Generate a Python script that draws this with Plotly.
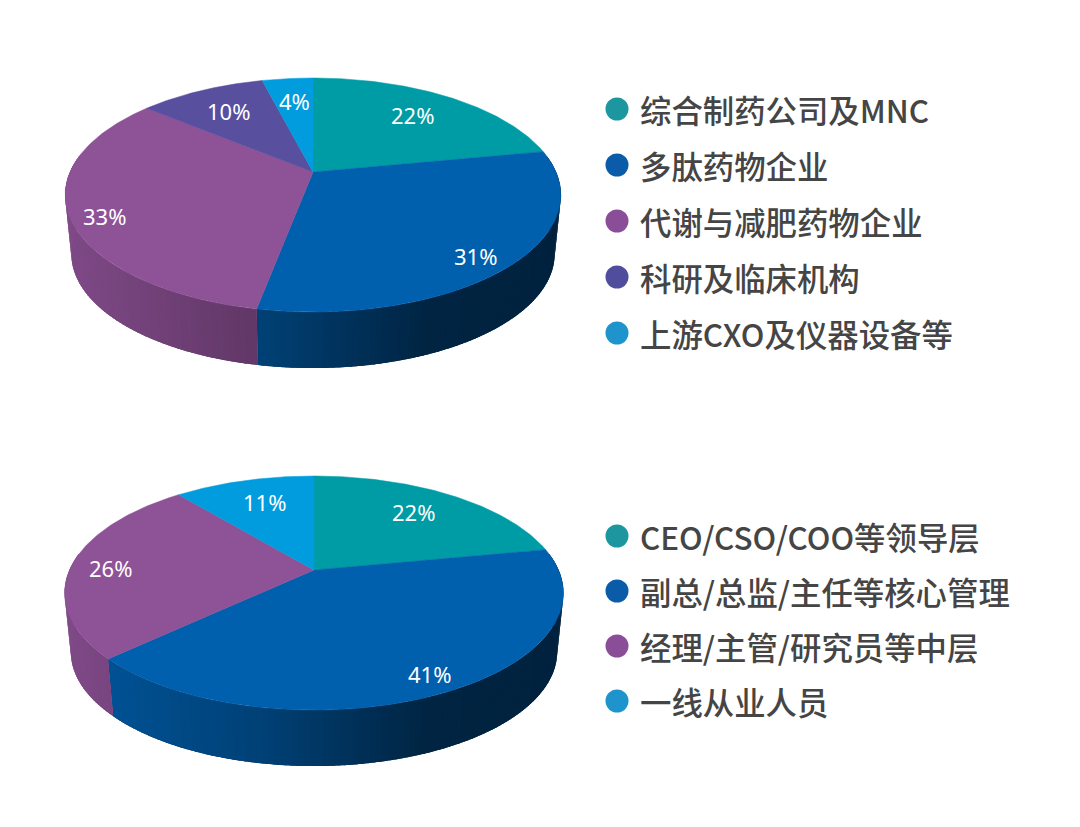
import numpy as np
import plotly.graph_objects as go

# ---- data ----
top_names = ["综合制药公司及MNC", "多肽药物企业", "代谢与减肥药物企业", "科研及临床机构", "上游CXO及仪器设备等"]
top_shares = [22, 31, 33, 10, 4]
top_colors = ["#009CA6", "#0060AE", "#8E5297", "#584F9F", "#009CDE"]
bottom_names = ["CEO/CSO/COO等领导层", "副总/总监/主任等核心管理", "经理/主管/研究员等中层", "一线从业人员"]
bottom_shares = [22, 41, 26, 11]
bottom_colors = ["#009CA6", "#0060AE", "#8E5297", "#009CDE"]
legend_colors_top = ["#1C979F", "#0A5CA8", "#8A4E98", "#504E9C", "#1E93CC"]
legend_colors_bottom = ["#1C979F", "#0A5CA8", "#8A4E98", "#1E93CC"]

# ---- layout constants (pixels) ----
W, H = 1080, 827
B, K = 112.5, 0.1966      # perspective disc
DEPTH, SHRINK = 59.5, 0.975
top_center = (313, 172, 243.0)
bottom_center = (314, 570, 244.5)
top_label_pos = [(412, 115), (475, 256), (104, 216), (228, 111), (294, 101)]
bottom_label_pos = [(413, 512), (429, 674), (110, 568), (264, 502)]
legend_top_y = [109, 165, 221, 277, 333]
legend_bottom_y = [536, 591, 646, 701]
LEGEND_X, LEGEND_TEXT_X = 617, 638
CJK = "Noto Sans CJK SC"


def project(t, cx, cy, a, scale=1.0, drop=0.0):
    X, Y = np.sin(t), -np.cos(t)
    w = 1 - K * Y
    return cx + scale * a * X / w, cy + drop + scale * B * Y / w


def shade(hexcol, x, cx):
    stops_x = [-250, -55, 115, 250]
    stops_f = [0.90, 0.68, 0.38, 0.36]
    f = float(np.interp(x - cx, stops_x, stops_f))
    rgb = [int(hexcol[i:i + 2], 16) for i in (1, 3, 5)]
    return "rgb(%d,%d,%d)" % tuple(int(c * f) for c in rgb)


fig = go.Figure()


def add_pie(shares, names, colors, center):
    cx, cy, a = center
    edges = np.cumsum([0] + shares) / sum(shares) * 2 * np.pi
    lo = np.pi / 2 - 0.15
    hi = 3 * np.pi / 2 + 0.15
    for s in range(len(shares)):
        a0, a1 = max(edges[s], lo), min(edges[s + 1], hi)
        if a1 <= a0:
            continue
        # solid base of the wall so the strips leave no pale seams
        ts = np.linspace(a0, a1, 200)
        tx, ty = project(ts, cx, cy, a)
        bx, by = project(ts, cx, cy, a, SHRINK, DEPTH)
        base = shade(colors[s], float(tx.mean()), cx)
        fig.add_trace(go.Scatter(x=[*tx, *bx[::-1], tx[0]], y=[*ty, *by[::-1], ty[0]],
                                 mode="none", fill="toself", fillcolor=base,
                                 hoverinfo="skip", showlegend=False))
        n = max(2, int((a1 - a0) / 0.02))
        ss = np.linspace(a0, a1, n + 1)
        for i, (u, v) in enumerate(zip(ss[:-1], ss[1:])):
            vv = v if i == n - 1 else v + 0.008
            tx0, ty0 = project(u, cx, cy, a)
            tx1, ty1 = project(vv, cx, cy, a)
            bx1, by1 = project(vv, cx, cy, a, SHRINK, DEPTH)
            bx0, by0 = project(u, cx, cy, a, SHRINK, DEPTH)
            c = shade(colors[s], (tx0 + tx1) / 2, cx)
            fig.add_trace(go.Scatter(x=[tx0, tx1, bx1, bx0, tx0], y=[ty0, ty1, by1, by0, ty0],
                                     mode="none", fill="toself", fillcolor=c,
                                     hoverinfo="skip", showlegend=False))
    for s, (name, col) in enumerate(zip(names, colors)):
        ts = np.linspace(edges[s], edges[s + 1], 120)
        px, py = project(ts, cx, cy, a)
        fig.add_trace(go.Scatter(x=[cx, *px, cx], y=[cy, *py, cy], mode="lines", fill="toself",
                                 fillcolor=col, line=dict(color=col, width=0.5),
                                 name=name, hoverinfo="name", showlegend=False))


add_pie(top_shares, top_names, top_colors, top_center)
add_pie(bottom_shares, bottom_names, bottom_colors, bottom_center)

annotations = []
for shares, positions in ((top_shares, top_label_pos), (bottom_shares, bottom_label_pos)):
    for v, (x, y) in zip(shares, positions):
        annotations.append(dict(x=x, y=y, text=f"{v}%", showarrow=False, xanchor="center", yanchor="middle",
                                font=dict(family="Noto Sans", size=22, color="#FFFFFF")))

for names, cols, ys in ((top_names, legend_colors_top, legend_top_y),
                        (bottom_names, legend_colors_bottom, legend_bottom_y)):
    fig.add_trace(go.Scatter(x=[LEGEND_X] * len(ys), y=ys, mode="markers", hoverinfo="skip", showlegend=False,
                             marker=dict(size=23, color=cols, line=dict(width=0))))
    for name, y in zip(names, ys):
        annotations.append(dict(x=LEGEND_TEXT_X, y=y, text=name, showarrow=False, xanchor="left", yanchor="middle",
                                font=dict(family=CJK, size=31.4, color="#454545", weight=500)))

fig.update_layout(
    width=W, height=H, margin=dict(l=0, r=0, t=0, b=0), paper_bgcolor="white", plot_bgcolor="white",
    xaxis=dict(range=[0, W], visible=False, fixedrange=True),
    yaxis=dict(range=[H, 0], visible=False, fixedrange=True),
    annotations=annotations, showlegend=False,
)
fig.write_html("out.html", config={"displayModeBar": False},
               post_script="document.body.style.margin='0';")
